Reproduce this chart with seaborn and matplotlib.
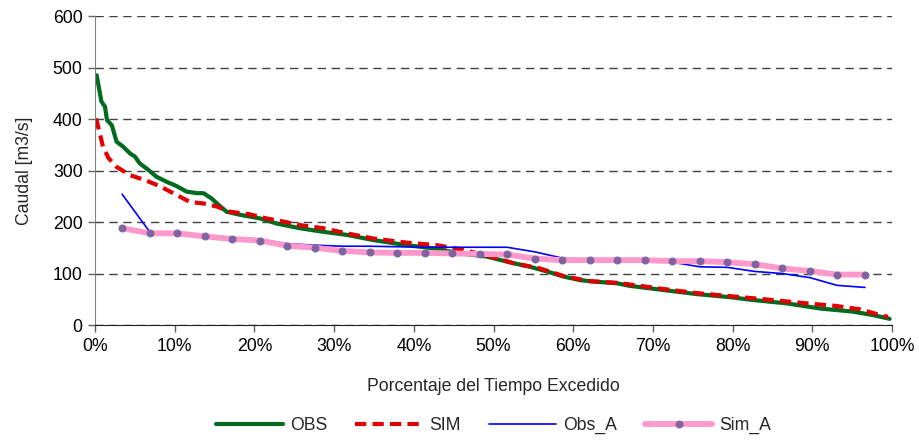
import pandas as pd
import matplotlib
matplotlib.use("Agg")
import matplotlib.pyplot as plt
import seaborn as sns
from matplotlib.ticker import PercentFormatter

# Cau hinh giao dien
sns.set_style("white")
plt.rcParams['font.family'] = ['Liberation Sans', 'DejaVu Sans']

# Curva de duracion OBS (porcentaje, caudal)
obs_pct = [0.2, 0.8, 1.25, 1.5, 2.1, 2.7, 3.55, 4.4, 5.0, 5.6, 6.7, 7.7, 9.0, 10.2,
           11.5, 12.8, 13.6, 14.6, 15.3, 16.5, 18.2, 20.7, 22.8, 25.7, 28.6, 31.6,
           34.9, 39.1, 42.4, 45.8, 49.1, 52.5, 54.6, 56.7, 58.8, 60.9, 62.9, 65.5,
           67.1, 71.3, 75.5, 79.7, 82.6, 86.8, 91.0, 95.1, 97.7, 99.7]
obs_q = [485, 434, 424, 398, 388, 356, 346, 333, 327, 314, 301, 288, 278, 270,
         259, 256, 256, 246, 236, 220, 214, 207, 197, 188, 181, 175,
         165, 155, 149, 139, 133, 120, 113, 104, 94, 87, 84, 81,
         76, 68, 60, 54, 48.5, 42, 32, 26, 19, 12]

# Curva SIM
sim_pct = [0.13, 0.6, 1.0, 1.7, 2.7, 4.4, 6.5, 8.2, 9.8, 11.9, 13.6, 15.3, 16.9,
           19.4, 21.5, 23.6, 25.7, 28.6, 31.6, 34.9, 39.1, 42.9, 46.2, 49.6, 52.5,
           55.8, 58.8, 62.1, 65.5, 71.3, 75.5, 79.7, 84.0, 89.3, 93.0, 96.0, 98.9, 99.5]
sim_q = [401, 372, 346, 324, 307, 291, 280, 269, 256, 239, 236, 230, 220,
         215, 207, 201, 194, 188, 178, 168, 160, 155, 146, 133, 120,
         110, 95, 85, 82, 70, 62, 56, 50, 42, 37, 30.5, 17.5, 16]

# Curvas anuales (Obs_A, Sim_A)
a_pct = [3.4, 6.9, 10.3, 13.8, 17.2, 20.7, 24.1, 27.6, 31.0, 34.5, 37.9, 41.4, 44.8, 48.3,
         51.7, 55.2, 58.6, 62.1, 65.5, 69.0, 72.4, 75.9, 79.3, 82.8, 86.2, 89.7, 93.1, 96.6]
obs_a = [254, 180, 179, 173, 169, 166, 158, 155, 153, 153, 152, 151, 151, 151,
         151, 142, 130, 127, 126, 126, 122, 113, 112, 104, 100, 92, 77, 73]
sim_a = [188, 178, 178, 172, 167, 164, 154, 150, 144, 141, 140, 140, 139, 138,
         137, 129, 126, 126, 126, 126, 124, 124, 122, 118, 110, 105, 98, 98]

fig = plt.figure(figsize=(9.2, 4.41), dpi=100)
ax = fig.add_axes([0.1033, 0.263, 0.8663, 0.7007])

pct = lambda v: [p / 100 for p in v]

sns.lineplot(x=pct(obs_pct), y=obs_q, ax=ax, color='#006a1e', linewidth=3.0, label='OBS')
sns.lineplot(x=pct(sim_pct), y=sim_q, ax=ax, color='#e00000', linewidth=3.0,
             linestyle=(0, (2.7, 1.5)), label='SIM')
sns.lineplot(x=pct(a_pct), y=obs_a, ax=ax, color='#0000ff', linewidth=1.2, label='Obs_A')
sns.lineplot(x=pct(a_pct), y=sim_a, ax=ax, color='#ff99cc', linewidth=4.2,
             marker='o', markersize=5, markerfacecolor='#8064a2',
             markeredgecolor='#8064a2', label='Sim_A')

ax.set_xlim(0, 1)
ax.set_ylim(0, 600)
ax.set_xticks([i / 10 for i in range(11)])
ax.set_yticks(range(0, 601, 100))
ax.xaxis.set_major_formatter(PercentFormatter(1.0, decimals=0))
ax.yaxis.grid(True, linestyle=(0, (6, 4)), color='#404040', linewidth=1)
ax.xaxis.grid(False)
ax.set_axisbelow(True)

for s in ['top', 'right']:
    ax.spines[s].set_visible(False)
ax.spines['left'].set_color('#808080')
ax.spines['bottom'].set_color('#202020')
ax.tick_params(axis='both', direction='out', length=5, width=1, color='#606060',
               labelsize=12.7, labelcolor='black', left=True, bottom=True, pad=4)

ax.set_xlabel('Porcentaje del Tiempo Excedido', fontsize=12.7, labelpad=17)
ax.set_ylabel('Caudal [m3/s]', fontsize=12.7, labelpad=14)

ax.legend(loc='center', bbox_to_anchor=(0.5, -0.325), ncol=4, frameon=False,
          fontsize=12.7, handlelength=3.8, columnspacing=1.6, handletextpad=0.4)

plt.savefig('out.png', dpi=100)
